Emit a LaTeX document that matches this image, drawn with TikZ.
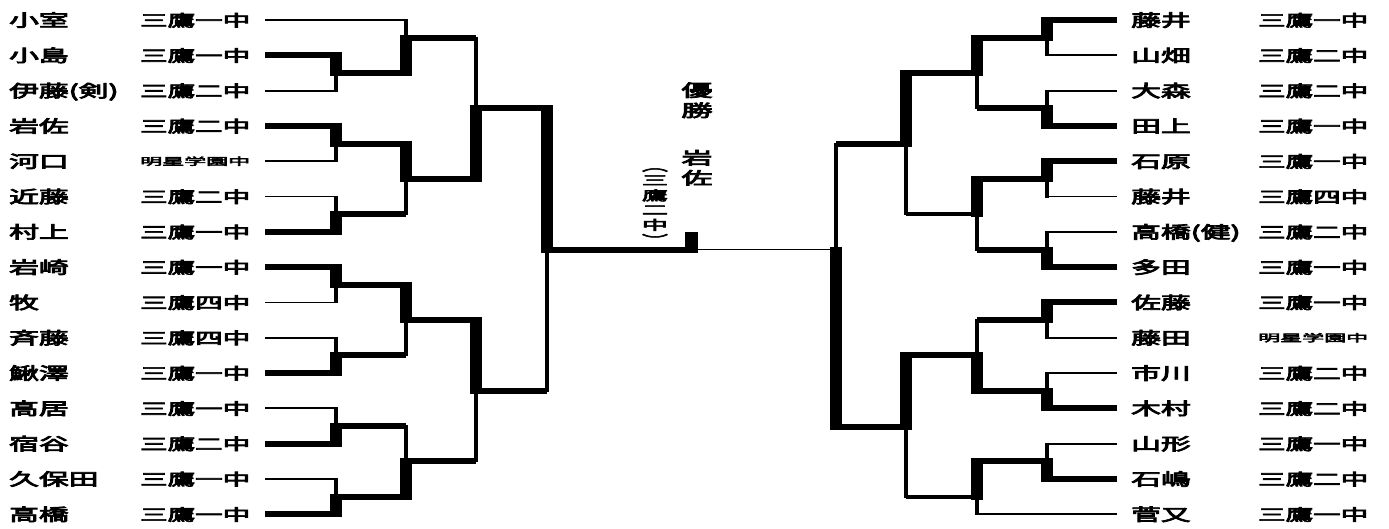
\documentclass[tikz,border=0pt]{standalone}
\usepackage{fontspec}
\usepackage{graphicx}
\newfontfamily\cjk[FakeBold=4]{Noto Sans CJK JP}
\newcommand\ms{\raisebox{2.5pt}{\resizebox{109pt}{\height}{\fontsize{10}{12}\selectfont 明星学園中}}}
\newcommand\nm[1]{\scalebox{1.75}[1]{#1}}
\newcommand\sch[1]{\resizebox{110pt}{\height}{#1}}
% vertical match: x, ytop, ymid, ybot, 0 = top part thick / 1 = bottom part thick
\newcommand\vmatch[5]{%
  \ifnum#5=0
    \draw[vk] (#1,#2) -- (#1,#3); \draw[vn] (#1,#3) -- (#1,#4);
  \else
    \draw[vn] (#1,#2) -- (#1,#3); \draw[vk] (#1,#3) -- (#1,#4);
  \fi}
\begin{document}
\begin{tikzpicture}[x=1pt,y=-1pt,
  hk/.style={line width=6pt},
  hm/.style={line width=4.5pt},
  hn/.style={line width=1.8pt},
  vk/.style={line width=12pt,shorten <=-3pt,shorten >=-3pt},
  vn/.style={line width=3.5pt,shorten <=-1pt,shorten >=-1pt},
  nametxt/.style={anchor=base west,inner sep=0pt,font=\cjk\fontsize{17}{20}\selectfont},
  schooltxt/.style={anchor=base west,inner sep=0pt,font=\cjk\fontsize{16}{20}\selectfont},
  centertxt/.style={inner sep=0pt,font=\cjk\fontsize{17}{19.5}\selectfont}]
\useasboundingbox (0,0) rectangle (1389,528);
\fill[white] (0,0) rectangle (1389,528);

% ---------- left names ----------
\foreach \n/\s [count=\i from 0] in {小室/三鷹一中,小島/三鷹一中,伊藤(剣)/三鷹二中,岩佐/三鷹二中,河口/\ms,近藤/三鷹二中,村上/三鷹一中,岩崎/三鷹一中,牧/三鷹四中,斉藤/三鷹四中,鰍澤/三鷹一中,高居/三鷹一中,宿谷/三鷹二中,久保田/三鷹一中,高橋/三鷹一中}{
  \node[nametxt] (ln\i) at (9,{20+35.3*\i+6.5}) {\nm{\n}};
  \node[schooltxt] (ls\i) at (140,{20+35.3*\i+6.3}) {\sch{\s}};
}
% ---------- right names ----------
\foreach \n/\s [count=\i from 0] in {藤井/三鷹一中,山畑/三鷹二中,大森/三鷹二中,田上/三鷹一中,石原/三鷹一中,藤井/三鷹四中,高橋(健)/三鷹二中,多田/三鷹一中,佐藤/三鷹一中,藤田/\ms,市川/三鷹二中,木村/三鷹二中,山形/三鷹一中,石嶋/三鷹二中,菅又/三鷹一中}{
  \node[nametxt] (rn\i) at (1131,{20+35.3*\i+6.5}) {\nm{\n}};
  \node[schooltxt] (rs\i) at (1258,{20+35.3*\i+6.3}) {\sch{\s}};
}

% ---------- left bracket ----------
\draw[hn] (265,20) -- (406,20);
\draw[hk] (265,55.3) -- (336,55.3);
\draw[hn] (265,90.6) -- (336,90.6);
\draw[hk] (265,125.9) -- (336,125.9);
\draw[hn] (265,161.2) -- (336,161.2);
\draw[hn] (265,196.5) -- (336,196.5);
\draw[hk] (265,231.8) -- (336,231.8);
\draw[hk] (265,267.1) -- (336,267.1);
\draw[hn] (265,302.4) -- (336,302.4);
\draw[hn] (265,337.7) -- (336,337.7);
\draw[hk] (265,373) -- (336,373);
\draw[hn] (265,408.3) -- (336,408.3);
\draw[hk] (265,443.6) -- (336,443.6);
\draw[hn] (265,478.9) -- (336,478.9);
\draw[hk] (265,514.2) -- (336,514.2);
\vmatch{336}{55.3}{73}{90.6}{0}
\vmatch{336}{125.9}{143.5}{161.2}{0}
\vmatch{336}{196.5}{214.2}{231.8}{1}
\vmatch{336}{267.1}{284.8}{302.4}{0}
\vmatch{336}{337.7}{355.4}{373}{1}
\vmatch{336}{408.3}{426}{443.6}{1}
\vmatch{336}{478.9}{496.6}{514.2}{1}
\draw[hk] (336,73) -- (406,73);
\draw[hk] (336,143.5) -- (406,143.5);
\draw[hk] (336,214.2) -- (406,214.2);
\draw[hk] (336,284.8) -- (406,284.8);
\draw[hk] (336,355.4) -- (406,355.4);
\draw[hk] (336,426) -- (406,426);
\draw[hk] (336,496.6) -- (406,496.6);
\vmatch{406}{20}{37.5}{73}{1}
\vmatch{406}{143.5}{178.9}{214.2}{0}
\vmatch{406}{284.8}{320}{355.4}{0}
\vmatch{406}{426}{461.3}{496.6}{1}
\draw[hk] (406,37.5) -- (476,37.5);
\draw[hk] (406,178.9) -- (476,178.9);
\draw[hk] (406,320) -- (476,320);
\draw[hk] (406,461.3) -- (476,461.3);
\vmatch{476}{37.5}{108.2}{178.9}{1}
\vmatch{476}{320}{390.6}{461.3}{0}
\draw[hk] (476,108.2) -- (547,108.2);
\draw[hk] (476,390.6) -- (547,390.6);
\vmatch{547}{108.2}{249.5}{390.6}{0}

% ---------- final ----------
\coordinate (stub) at (692,249.5);
\draw[hk] (547,249.5) -- (stub);
\draw[hn] (stub) -- (836,249.5);
\fill (685,232) rectangle (698,253);

% ---------- right bracket ----------
\draw[hk] (1117,20) -- (1047,20);
\draw[hn] (1117,55.3) -- (1047,55.3);
\draw[hn] (1117,90.6) -- (1047,90.6);
\draw[hk] (1117,125.9) -- (1047,125.9);
\draw[hk] (1117,161.2) -- (1047,161.2);
\draw[hn] (1117,196.5) -- (1047,196.5);
\draw[hn] (1117,231.8) -- (1047,231.8);
\draw[hk] (1117,267.1) -- (1047,267.1);
\draw[hk] (1117,302.4) -- (1047,302.4);
\draw[hn] (1117,337.7) -- (1047,337.7);
\draw[hn] (1117,373) -- (1047,373);
\draw[hk] (1117,408.3) -- (1047,408.3);
\draw[hn] (1117,443.6) -- (1047,443.6);
\draw[hk] (1117,478.9) -- (1047,478.9);
\draw[hn] (1117,514.2) -- (977,514.2);
\vmatch{1047}{20}{37.6}{55.3}{0}
\vmatch{1047}{90.6}{108.2}{125.9}{1}
\vmatch{1047}{161.2}{178.9}{196.5}{0}
\vmatch{1047}{231.8}{249.5}{267.1}{1}
\vmatch{1047}{302.4}{320}{337.7}{0}
\vmatch{1047}{373}{390.6}{408.3}{1}
\vmatch{1047}{443.6}{461.3}{478.9}{1}
\draw[hk] (1047,37.6) -- (977,37.6);
\draw[hk] (1047,108.2) -- (977,108.2);
\draw[hk] (1047,178.9) -- (977,178.9);
\draw[hk] (1047,249.5) -- (977,249.5);
\draw[hk] (1047,320) -- (977,320);
\draw[hk] (1047,390.6) -- (977,390.6);
\draw[hk] (1047,461.3) -- (977,461.3);
\vmatch{977}{37.6}{73}{108.2}{0}
\vmatch{977}{178.9}{214.2}{249.5}{0}
\vmatch{977}{320}{355.4}{390.6}{1}
\vmatch{977}{461.3}{497}{514.2}{0}
\draw[hk] (977,73) -- (906,73);
\draw[hm] (977,214.2) -- (906,214.2);
\draw[hk] (977,355.4) -- (906,355.4);
\draw[hm] (977,497) -- (906,497);
\vmatch{906}{73}{144}{214.2}{0}
\vmatch{906}{355.4}{426.5}{497}{0}
\draw[hk] (906,144) -- (836,144);
\draw[hk] (906,426.5) -- (836,426.5);
\vmatch{836}{144}{249.5}{426.5}{1}

% ---------- centre texts ----------
\node[centertxt] (yusho) at (697,102.5) {\resizebox{31pt}{\height}{\begin{tabular}{@{}c@{}}優\\勝\end{tabular}}};
\node[centertxt] (iwasa) at (697,170) {\resizebox{31pt}{\height}{\begin{tabular}{@{}c@{}}岩\\佐\end{tabular}}};
\node[inner sep=0pt,font=\cjk\fontsize{13}{14.3}\selectfont] (school) at (655,205) {\resizebox{26pt}{\height}{\begin{tabular}{@{}c@{}}︵\\三\\鷹\\二\\中\\︶\end{tabular}}};
\end{tikzpicture}
\end{document}
